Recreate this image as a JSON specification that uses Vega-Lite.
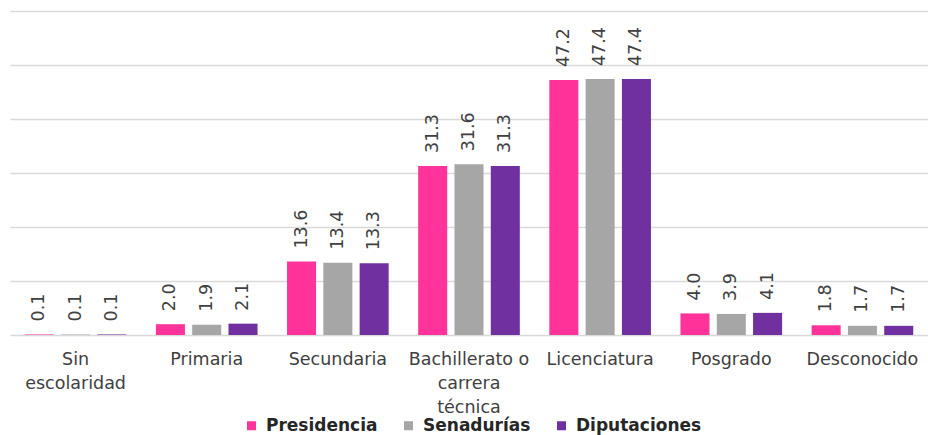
{
  "$schema": "https://vega.github.io/schema/vega-lite/v6.json",
  "width": 918,
  "height": 324,
  "autosize": {"type": "none"},
  "padding": {"left": 10, "top": 11, "right": 0, "bottom": 100},
  "background": "white",
  "config": {
    "view": {"stroke": null},
    "font": "DejaVu Sans"
  },
  "data": {
    "values": [
      {"nivel": "Sin escolaridad", "cargo": "Presidencia", "valor": 0.1},
      {"nivel": "Sin escolaridad", "cargo": "Senadurías", "valor": 0.1},
      {"nivel": "Sin escolaridad", "cargo": "Diputaciones", "valor": 0.1},
      {"nivel": "Primaria", "cargo": "Presidencia", "valor": 2.0},
      {"nivel": "Primaria", "cargo": "Senadurías", "valor": 1.9},
      {"nivel": "Primaria", "cargo": "Diputaciones", "valor": 2.1},
      {"nivel": "Secundaria", "cargo": "Presidencia", "valor": 13.6},
      {"nivel": "Secundaria", "cargo": "Senadurías", "valor": 13.4},
      {"nivel": "Secundaria", "cargo": "Diputaciones", "valor": 13.3},
      {"nivel": "Bachillerato o carrera técnica", "cargo": "Presidencia", "valor": 31.3},
      {"nivel": "Bachillerato o carrera técnica", "cargo": "Senadurías", "valor": 31.6},
      {"nivel": "Bachillerato o carrera técnica", "cargo": "Diputaciones", "valor": 31.3},
      {"nivel": "Licenciatura", "cargo": "Presidencia", "valor": 47.2},
      {"nivel": "Licenciatura", "cargo": "Senadurías", "valor": 47.4},
      {"nivel": "Licenciatura", "cargo": "Diputaciones", "valor": 47.4},
      {"nivel": "Posgrado", "cargo": "Presidencia", "valor": 4.0},
      {"nivel": "Posgrado", "cargo": "Senadurías", "valor": 3.9},
      {"nivel": "Posgrado", "cargo": "Diputaciones", "valor": 4.1},
      {"nivel": "Desconocido", "cargo": "Presidencia", "valor": 1.8},
      {"nivel": "Desconocido", "cargo": "Senadurías", "valor": 1.7},
      {"nivel": "Desconocido", "cargo": "Diputaciones", "valor": 1.7}
    ]
  },
  "encoding": {
    "x": {
      "field": "nivel",
      "type": "nominal",
      "sort": null,
      "scale": {"paddingInner": 0.225, "paddingOuter": 0.1125},
      "axis": {
        "title": null,
        "ticks": false,
        "domain": true,
        "domainColor": "#D9D9D9",
        "domainWidth": 1.5,
        "labelAngle": 0,
        "labelFont": "DejaVu Sans",
        "labelFontSize": 17.5,
        "labelColor": "#404040",
        "labelPadding": 15,
        "labelLineHeight": 24,
        "labelOverlap": false,
        "labelBound": false,
        "labelExpr": "datum.label == 'Sin escolaridad' ? ['Sin', 'escolaridad'] : datum.label == 'Bachillerato o carrera técnica' ? ['Bachillerato o', 'carrera', 'técnica'] : datum.label"
      }
    },
    "xOffset": {
      "field": "cargo",
      "type": "nominal",
      "sort": ["Presidencia", "Senadurías", "Diputaciones"],
      "scale": {"paddingInner": 0.2, "paddingOuter": 0}
    },
    "y": {
      "field": "valor",
      "type": "quantitative",
      "scale": {"domain": [0, 60], "nice": false},
      "axis": {
        "title": null,
        "labels": false,
        "ticks": false,
        "domain": false,
        "grid": true,
        "gridColor": "#D9D9D9",
        "gridWidth": 1.5,
        "values": [10, 20, 30, 40, 50, 60]
      }
    }
  },
  "layer": [
    {
      "mark": {"type": "bar"},
      "encoding": {
        "color": {
          "field": "cargo",
          "type": "nominal",
          "sort": ["Presidencia", "Senadurías", "Diputaciones"],
          "scale": {
            "domain": ["Presidencia", "Senadurías", "Diputaciones"],
            "range": ["#FF3399", "#A6A6A6", "#7030A0"]
          },
          "legend": {
            "title": null,
            "orient": "none",
            "legendX": 233,
            "legendY": 406,
            "direction": "horizontal",
            "padding": 0,
            "symbolType": "square",
            "symbolSize": 81,
            "symbolStrokeWidth": 0,
            "labelFont": "DejaVu Sans",
            "labelFontSize": 17,
            "labelFontWeight": "bold",
            "labelColor": "#262626",
            "labelOffset": 6,
            "columnPadding": 22
          }
        }
      }
    },
    {
      "mark": {
        "type": "text",
        "angle": 270,
        "align": "left",
        "baseline": "middle",
        "dx": 13,
        "font": "DejaVu Sans",
        "fontSize": 17.5,
        "color": "#404040"
      },
      "encoding": {
        "text": {"field": "valor", "type": "quantitative", "format": ".1f"}
      }
    }
  ]
}
